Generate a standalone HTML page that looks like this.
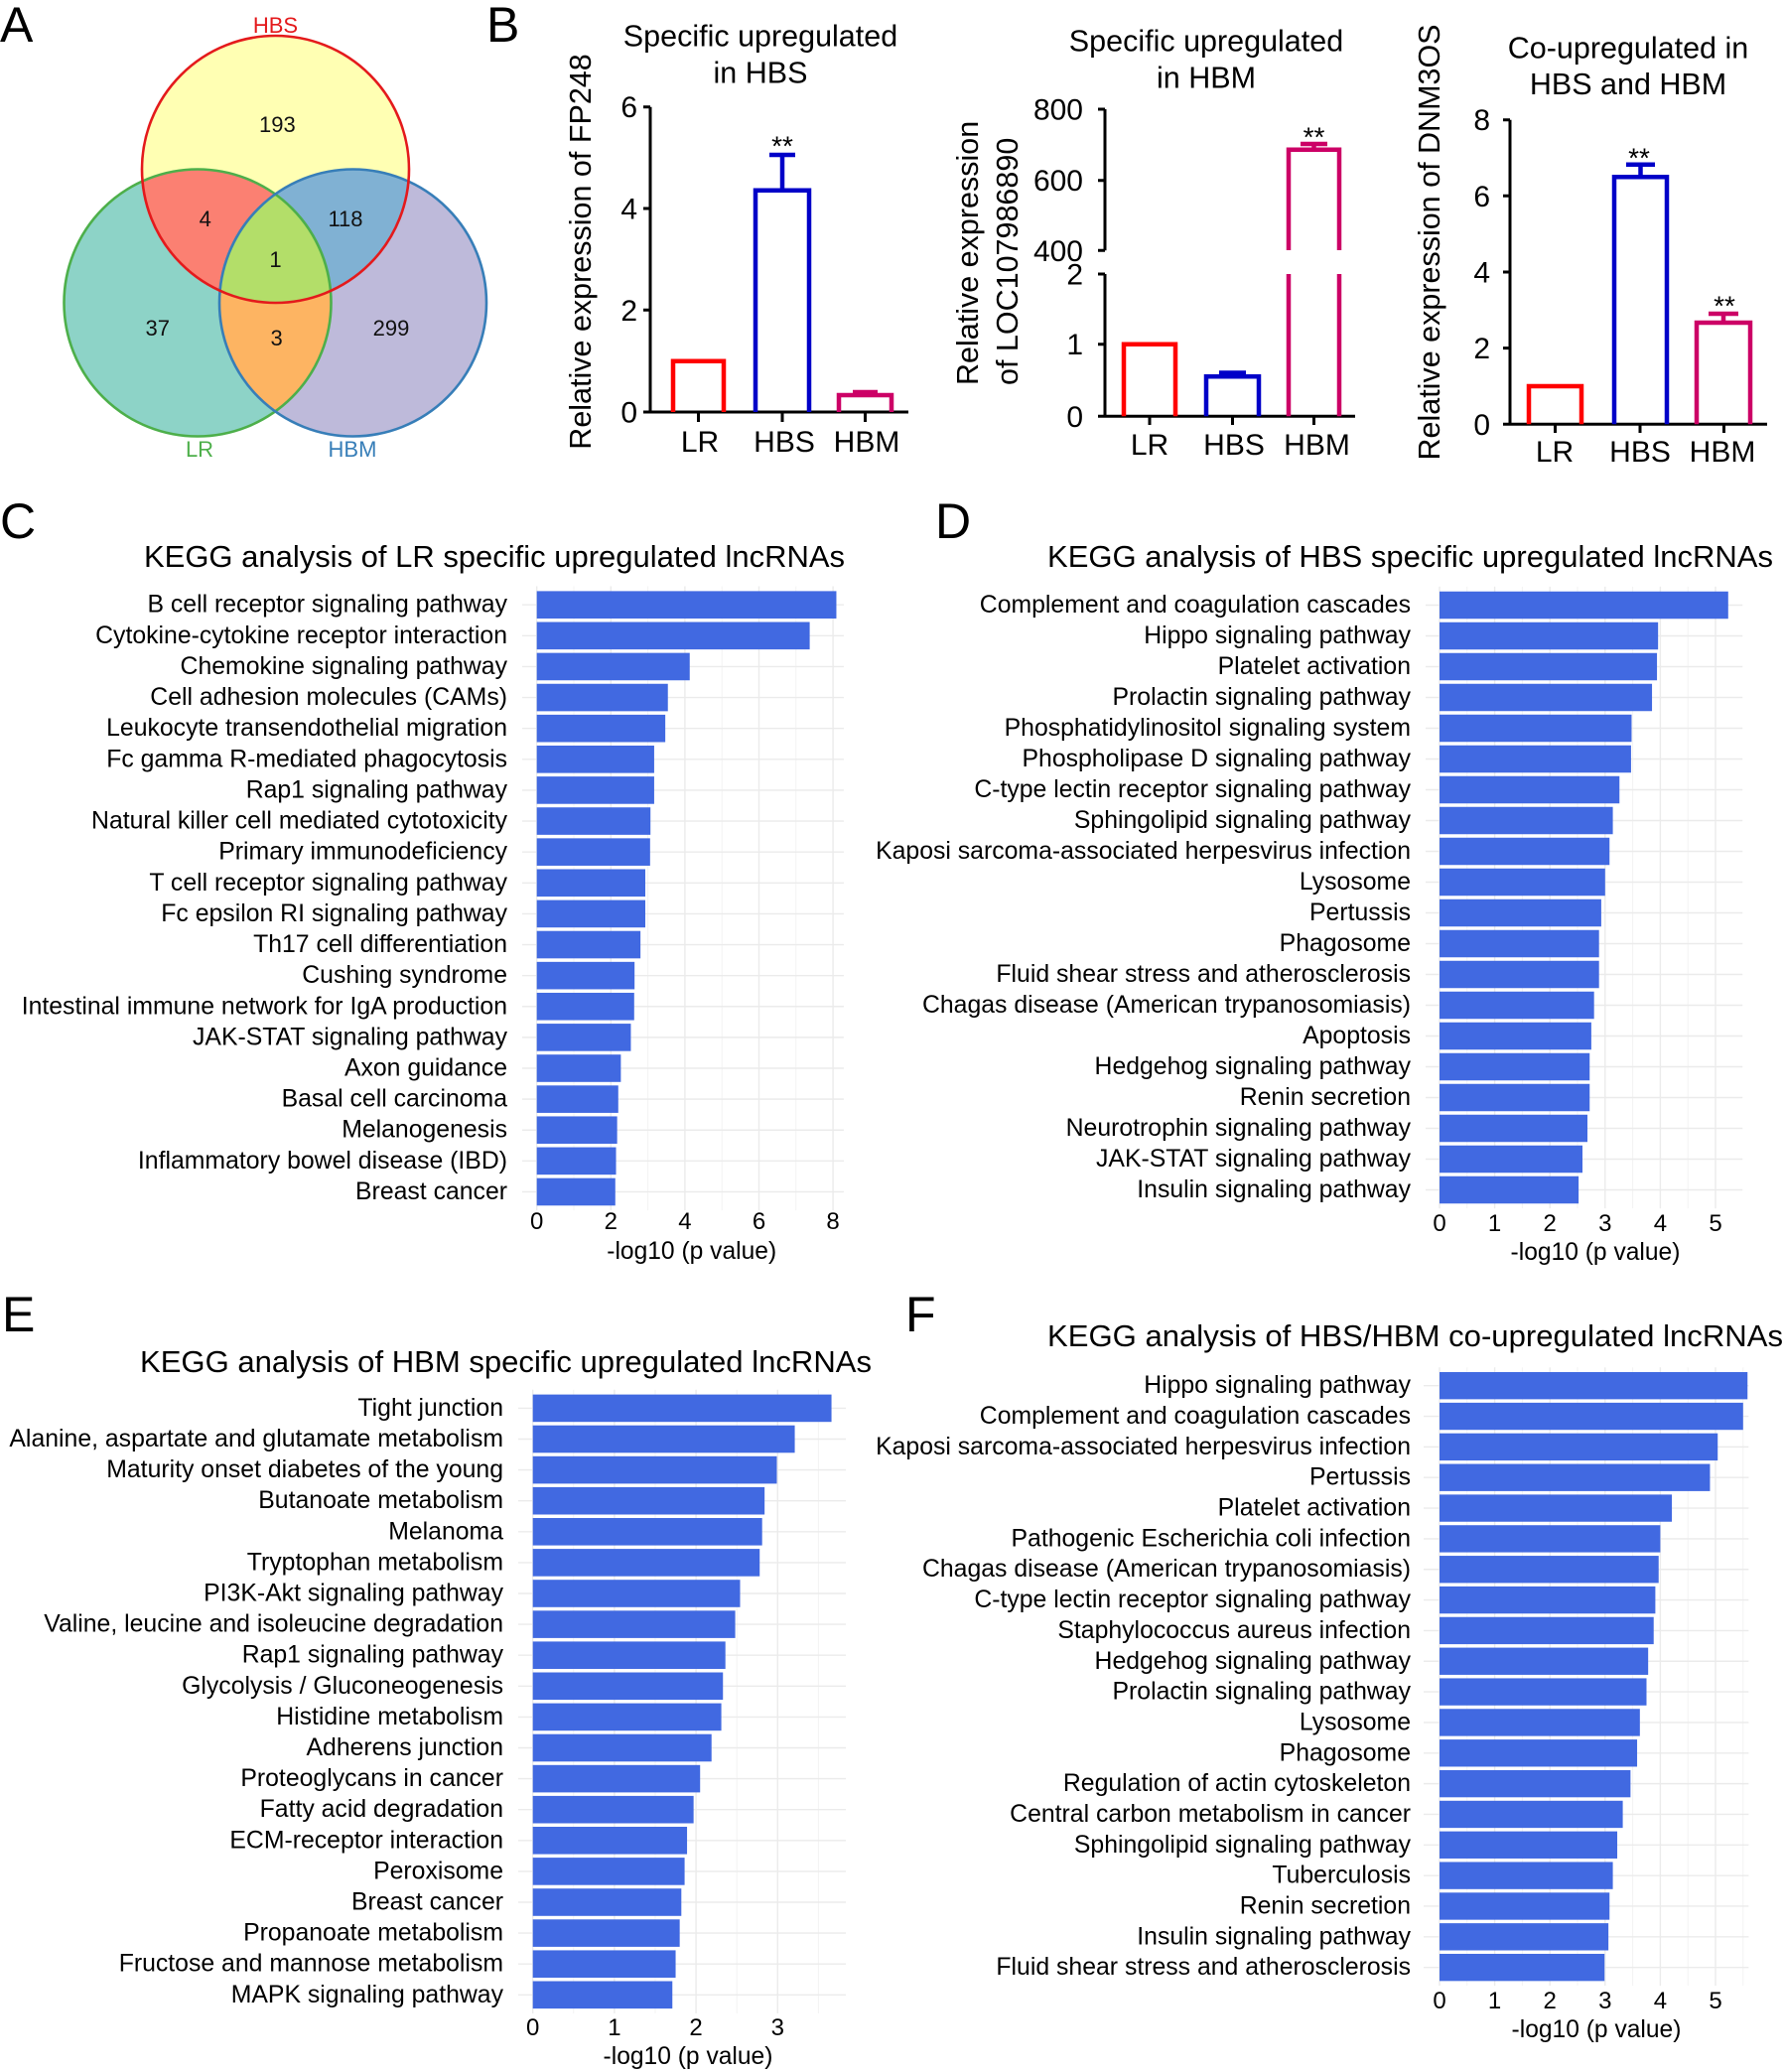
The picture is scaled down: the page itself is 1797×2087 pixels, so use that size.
<!DOCTYPE html>
<html><head><meta charset="utf-8">
<style>
html,body{margin:0;padding:0;background:#fff;}
svg{display:block;font-family:"Liberation Sans",Arial,sans-serif;}
.ns line,.ns rect{vector-effect:non-scaling-stroke;}
.gmaj{stroke:#EBEBEB;stroke-width:1.4;}
.gmin{stroke:#F3F3F3;stroke-width:1;}
.bars rect{fill:#4169E1;}
</style></head>
<body>
<svg width="1797" height="2087" viewBox="0 0 1797 2087" xmlns="http://www.w3.org/2000/svg">
<rect width="1797" height="2087" fill="#fff"/>
<defs>
<clipPath id="cH"><circle cx="277.5" cy="170.5" r="134.5"/></clipPath>
<clipPath id="cL"><circle cx="199" cy="305" r="134.5"/></clipPath>
<clipPath id="cM"><circle cx="355.5" cy="305" r="134.5"/></clipPath>
</defs>

<!-- Panel letters -->
<g font-size="50" fill="#000">
<text x="0" y="42">A</text>
<text x="490" y="42">B</text>
<text x="0" y="542">C</text>
<text x="942" y="542">D</text>
<text x="2" y="1341">E</text>
<text x="912" y="1341">F</text>
</g>

<!-- Venn -->
<circle cx="277.5" cy="170.5" r="134.5" fill="#FFFFB3"/>
<circle cx="199" cy="305" r="134.5" fill="#8DD3C7"/>
<circle cx="355.5" cy="305" r="134.5" fill="#BEBADA"/>
<circle cx="199" cy="305" r="134.5" fill="#FB8072" clip-path="url(#cH)"/>
<circle cx="355.5" cy="305" r="134.5" fill="#80B1D3" clip-path="url(#cH)"/>
<circle cx="355.5" cy="305" r="134.5" fill="#FDB462" clip-path="url(#cL)"/>
<g clip-path="url(#cH)"><circle cx="355.5" cy="305" r="134.5" fill="#B3DE69" clip-path="url(#cL)"/></g>
<circle cx="199" cy="305" r="134.5" fill="none" stroke="#4DAF4A" stroke-width="2.6"/>
<circle cx="355.5" cy="305" r="134.5" fill="none" stroke="#377EB8" stroke-width="2.6"/>
<circle cx="277.5" cy="170.5" r="134.5" fill="none" stroke="#E41A1C" stroke-width="2.6"/>
<g font-size="22" fill="#111" text-anchor="middle">
<text x="279.4" y="133">193</text>
<text x="206.7" y="228">4</text>
<text x="348" y="228">118</text>
<text x="277.5" y="269">1</text>
<text x="158.8" y="338">37</text>
<text x="278.6" y="348">3</text>
<text x="394" y="338">299</text>
<text x="277.5" y="33" fill="#E41A1C">HBS</text>
<text x="201" y="460" fill="#4DAF4A">LR</text>
<text x="355" y="460" fill="#377EB8">HBM</text>
</g>

<!-- Panel B chart 1 -->
<g font-size="30.5" fill="#000">
<text x="766" y="46.7" text-anchor="middle">Specific upregulated</text>
<text x="766" y="83.3" text-anchor="middle">in HBS</text>
<text transform="translate(595 253.5) rotate(-90)" text-anchor="middle">Relative expression of FP248</text>
<g text-anchor="end" font-size="30">
<text x="642" y="118.2">6</text>
<text x="642" y="220.5">4</text>
<text x="642" y="322.8">2</text>
<text x="642" y="425.5">0</text>
</g>
<g text-anchor="middle" font-size="30">
<text x="705" y="455">LR</text>
<text x="790" y="455">HBS</text>
<text x="873" y="455">HBM</text>
</g>
<text x="788" y="156.5" font-size="28" text-anchor="middle">**</text>
</g>
<g fill="none" stroke="#000" stroke-width="3">
<path d="M655 107.7V415M648 415H915M648 107.7H655M648 210H655M648 312.3H655M703.5 415V425M788 415V425M871.5 415V425"/>
</g>
<g fill="none" stroke-width="4.5" stroke-linejoin="miter">
<path d="M678 415V363.8H729V415" stroke="#FF0000"/>
<path d="M761 415V191.7H815V415M788 191.7V156M775 156H801" stroke="#0000C8"/>
<path d="M845 415V398H898V415M871.5 398V395M859 395H884" stroke="#CC0066"/>
</g>

<!-- Panel B chart 2 -->
<g font-size="30.5" fill="#000">
<text x="1215" y="51.7" text-anchor="middle">Specific upregulated</text>
<text x="1215" y="88.3" text-anchor="middle">in HBM</text>
<text transform="translate(985 388) rotate(-90)">Relative expression</text>
<text transform="translate(1025 388) rotate(-90)">of LOC107986890</text>
<g text-anchor="end" font-size="30">
<text x="1091" y="120.5">800</text>
<text x="1091" y="192.2">600</text>
<text x="1091" y="262.8">400</text>
<text x="1091" y="286.5">2</text>
<text x="1091" y="357.2">1</text>
<text x="1091" y="429.8">0</text>
</g>
<g text-anchor="middle" font-size="30">
<text x="1158" y="458">LR</text>
<text x="1243" y="458">HBS</text>
<text x="1326.5" y="458">HBM</text>
</g>
<text x="1323.5" y="147.5" font-size="28" text-anchor="middle">**</text>
</g>
<g fill="none" stroke="#000" stroke-width="3">
<path d="M1113 110V252.3M1106 110H1113M1106 181.7H1113M1106 252.3H1113M1113 276V419.3M1106 276H1113M1106 346.7H1113M1106 419.3H1365M1158 419.3V428M1241.5 419.3V428M1323.5 419.3V428"/>
</g>
<g fill="none" stroke-width="4.5">
<path d="M1132 419.3V346.7H1184V419.3" stroke="#FF0000"/>
<path d="M1215 419.3V379.3H1268V419.3M1241.5 379.3V375.5M1228 375.5H1255" stroke="#0000C8"/>
<path d="M1298 419.3V276M1349 419.3V276M1298 252V150.7H1349V252M1323.5 150.7V145M1310 145H1337" stroke="#CC0066"/>
</g>

<!-- Panel B chart 3 -->
<g font-size="30.5" fill="#000">
<text x="1640" y="58.3" text-anchor="middle">Co-upregulated in</text>
<text x="1640" y="95" text-anchor="middle">HBS and HBM</text>
<text transform="translate(1450 244) rotate(-90)" text-anchor="middle">Relative expression of DNM3OS</text>
<g text-anchor="end" font-size="30">
<text x="1501" y="131.2">8</text>
<text x="1501" y="207.8">6</text>
<text x="1501" y="284.5">4</text>
<text x="1501" y="361.1">2</text>
<text x="1501" y="437.8">0</text>
</g>
<g text-anchor="middle" font-size="30">
<text x="1566" y="465">LR</text>
<text x="1652" y="465">HBS</text>
<text x="1735" y="465">HBM</text>
</g>
<text x="1651" y="168.5" font-size="28" text-anchor="middle">**</text>
<text x="1737" y="317.5" font-size="28" text-anchor="middle">**</text>
</g>
<g fill="none" stroke="#000" stroke-width="3">
<path d="M1521 120.7V427.3M1514 120.7H1521M1514 197.3H1521M1514 274H1521M1514 350.6H1521M1514 427.3H1780M1566.5 427.3V436M1652 427.3V436M1736.5 427.3V436"/>
</g>
<g fill="none" stroke-width="4.5">
<path d="M1540 427.3V389H1593V427.3" stroke="#FF0000"/>
<path d="M1626 427.3V178.3H1679V427.3M1652.5 178.3V165.7M1638 165.7H1667" stroke="#0000C8"/>
<path d="M1709 427.3V325H1763V427.3M1736 325V316M1721 316H1751" stroke="#CC0066"/>
</g>

<!-- ============ Panel C ============ -->
<text x="145" y="571" font-size="31" textLength="706" lengthAdjust="spacingAndGlyphs">KEGG analysis of LR specific upregulated lncRNAs</text>
<g class="ns" transform="translate(540.7 609.2) scale(37.3 31.12)">
<g class="gmin">
<line x1="1" y1="-0.6" x2="1" y2="19.6"/><line x1="3" y1="-0.6" x2="3" y2="19.6"/><line x1="5" y1="-0.6" x2="5" y2="19.6"/><line x1="7" y1="-0.6" x2="7" y2="19.6"/>
</g>
<g class="gmaj">
<line x1="0" y1="-0.6" x2="0" y2="19.6"/><line x1="2" y1="-0.6" x2="2" y2="19.6"/><line x1="4" y1="-0.6" x2="4" y2="19.6"/><line x1="6" y1="-0.6" x2="6" y2="19.6"/><line x1="8" y1="-0.6" x2="8" y2="19.6"/>
<line x1="-0.394" y1="0" x2="8.29" y2="0"/><line x1="-0.394" y1="1" x2="8.29" y2="1"/><line x1="-0.394" y1="2" x2="8.29" y2="2"/><line x1="-0.394" y1="3" x2="8.29" y2="3"/><line x1="-0.394" y1="4" x2="8.29" y2="4"/><line x1="-0.394" y1="5" x2="8.29" y2="5"/><line x1="-0.394" y1="6" x2="8.29" y2="6"/><line x1="-0.394" y1="7" x2="8.29" y2="7"/><line x1="-0.394" y1="8" x2="8.29" y2="8"/><line x1="-0.394" y1="9" x2="8.29" y2="9"/><line x1="-0.394" y1="10" x2="8.29" y2="10"/><line x1="-0.394" y1="11" x2="8.29" y2="11"/><line x1="-0.394" y1="12" x2="8.29" y2="12"/><line x1="-0.394" y1="13" x2="8.29" y2="13"/><line x1="-0.394" y1="14" x2="8.29" y2="14"/><line x1="-0.394" y1="15" x2="8.29" y2="15"/><line x1="-0.394" y1="16" x2="8.29" y2="16"/><line x1="-0.394" y1="17" x2="8.29" y2="17"/><line x1="-0.394" y1="18" x2="8.29" y2="18"/><line x1="-0.394" y1="19" x2="8.29" y2="19"/>
</g>
<g class="bars">
<rect x="0" y="-0.4435" width="8.09" height="0.887"/>
<rect x="0" y="0.5565" width="7.37" height="0.887"/>
<rect x="0" y="1.5565" width="4.13" height="0.887"/>
<rect x="0" y="2.5565" width="3.54" height="0.887"/>
<rect x="0" y="3.5565" width="3.47" height="0.887"/>
<rect x="0" y="4.5565" width="3.17" height="0.887"/>
<rect x="0" y="5.5565" width="3.17" height="0.887"/>
<rect x="0" y="6.5565" width="3.07" height="0.887"/>
<rect x="0" y="7.5565" width="3.06" height="0.887"/>
<rect x="0" y="8.5565" width="2.93" height="0.887"/>
<rect x="0" y="9.5565" width="2.93" height="0.887"/>
<rect x="0" y="10.5565" width="2.80" height="0.887"/>
<rect x="0" y="11.5565" width="2.64" height="0.887"/>
<rect x="0" y="12.5565" width="2.63" height="0.887"/>
<rect x="0" y="13.5565" width="2.54" height="0.887"/>
<rect x="0" y="14.5565" width="2.27" height="0.887"/>
<rect x="0" y="15.5565" width="2.20" height="0.887"/>
<rect x="0" y="16.5565" width="2.17" height="0.887"/>
<rect x="0" y="17.5565" width="2.14" height="0.887"/>
<rect x="0" y="18.5565" width="2.12" height="0.887"/>
</g>
</g>
<text font-size="24.8" text-anchor="end" fill="#000"><tspan x="511" y="616.7">B cell receptor signaling pathway</tspan><tspan
 x="511" dy="31.12">Cytokine-cytokine receptor interaction</tspan><tspan
 x="511" dy="31.12">Chemokine signaling pathway</tspan><tspan
 x="511" dy="31.12">Cell adhesion molecules (CAMs)</tspan><tspan
 x="511" dy="31.12">Leukocyte transendothelial migration</tspan><tspan
 x="511" dy="31.12">Fc gamma R-mediated phagocytosis</tspan><tspan
 x="511" dy="31.12">Rap1 signaling pathway</tspan><tspan
 x="511" dy="31.12">Natural killer cell mediated cytotoxicity</tspan><tspan
 x="511" dy="31.12">Primary immunodeficiency</tspan><tspan
 x="511" dy="31.12">T cell receptor signaling pathway</tspan><tspan
 x="511" dy="31.12">Fc epsilon RI signaling pathway</tspan><tspan
 x="511" dy="31.12">Th17 cell differentiation</tspan><tspan
 x="511" dy="31.12">Cushing syndrome</tspan><tspan
 x="511" dy="31.12">Intestinal immune network for IgA production</tspan><tspan
 x="511" dy="31.12">JAK-STAT signaling pathway</tspan><tspan
 x="511" dy="31.12">Axon guidance</tspan><tspan
 x="511" dy="31.12">Basal cell carcinoma</tspan><tspan
 x="511" dy="31.12">Melanogenesis</tspan><tspan
 x="511" dy="31.12">Inflammatory bowel disease (IBD)</tspan><tspan
 x="511" dy="31.12">Breast cancer</tspan></text>
<g font-size="24" text-anchor="middle" fill="#000">
<text x="540.7" y="1238">0</text><text x="615.3" y="1238">2</text><text x="689.9" y="1238">4</text><text x="764.5" y="1238">6</text><text x="839.1" y="1238">8</text>
<text x="696.7" y="1268" font-size="24.6">-log10 (p value)</text>
</g>

<!-- ============ Panel D ============ -->
<text x="1055" y="571" font-size="31" textLength="731" lengthAdjust="spacingAndGlyphs">KEGG analysis of HBS specific upregulated lncRNAs</text>
<g class="ns" transform="translate(1450 609.5) scale(55.6 31.0)">
<g class="gmin">
<line x1="0.5" y1="-0.6" x2="0.5" y2="19.6"/><line x1="1.5" y1="-0.6" x2="1.5" y2="19.6"/><line x1="2.5" y1="-0.6" x2="2.5" y2="19.6"/><line x1="3.5" y1="-0.6" x2="3.5" y2="19.6"/><line x1="4.5" y1="-0.6" x2="4.5" y2="19.6"/>
</g>
<g class="gmaj">
<line x1="0" y1="-0.6" x2="0" y2="19.6"/><line x1="1" y1="-0.6" x2="1" y2="19.6"/><line x1="2" y1="-0.6" x2="2" y2="19.6"/><line x1="3" y1="-0.6" x2="3" y2="19.6"/><line x1="4" y1="-0.6" x2="4" y2="19.6"/><line x1="5" y1="-0.6" x2="5" y2="19.6"/>
<line x1="-0.252" y1="0" x2="5.49" y2="0"/><line x1="-0.252" y1="1" x2="5.49" y2="1"/><line x1="-0.252" y1="2" x2="5.49" y2="2"/><line x1="-0.252" y1="3" x2="5.49" y2="3"/><line x1="-0.252" y1="4" x2="5.49" y2="4"/><line x1="-0.252" y1="5" x2="5.49" y2="5"/><line x1="-0.252" y1="6" x2="5.49" y2="6"/><line x1="-0.252" y1="7" x2="5.49" y2="7"/><line x1="-0.252" y1="8" x2="5.49" y2="8"/><line x1="-0.252" y1="9" x2="5.49" y2="9"/><line x1="-0.252" y1="10" x2="5.49" y2="10"/><line x1="-0.252" y1="11" x2="5.49" y2="11"/><line x1="-0.252" y1="12" x2="5.49" y2="12"/><line x1="-0.252" y1="13" x2="5.49" y2="13"/><line x1="-0.252" y1="14" x2="5.49" y2="14"/><line x1="-0.252" y1="15" x2="5.49" y2="15"/><line x1="-0.252" y1="16" x2="5.49" y2="16"/><line x1="-0.252" y1="17" x2="5.49" y2="17"/><line x1="-0.252" y1="18" x2="5.49" y2="18"/><line x1="-0.252" y1="19" x2="5.49" y2="19"/>
</g>
<g class="bars">
<rect x="0" y="-0.4435" width="5.23" height="0.887"/>
<rect x="0" y="0.5565" width="3.96" height="0.887"/>
<rect x="0" y="1.5565" width="3.94" height="0.887"/>
<rect x="0" y="2.5565" width="3.85" height="0.887"/>
<rect x="0" y="3.5565" width="3.48" height="0.887"/>
<rect x="0" y="4.5565" width="3.47" height="0.887"/>
<rect x="0" y="5.5565" width="3.26" height="0.887"/>
<rect x="0" y="6.5565" width="3.14" height="0.887"/>
<rect x="0" y="7.5565" width="3.08" height="0.887"/>
<rect x="0" y="8.5565" width="3.00" height="0.887"/>
<rect x="0" y="9.5565" width="2.93" height="0.887"/>
<rect x="0" y="10.5565" width="2.89" height="0.887"/>
<rect x="0" y="11.5565" width="2.89" height="0.887"/>
<rect x="0" y="12.5565" width="2.80" height="0.887"/>
<rect x="0" y="13.5565" width="2.75" height="0.887"/>
<rect x="0" y="14.5565" width="2.72" height="0.887"/>
<rect x="0" y="15.5565" width="2.72" height="0.887"/>
<rect x="0" y="16.5565" width="2.68" height="0.887"/>
<rect x="0" y="17.5565" width="2.59" height="0.887"/>
<rect x="0" y="18.5565" width="2.52" height="0.887"/>
</g>
</g>
<text font-size="24.8" text-anchor="end" fill="#000"><tspan x="1421" y="617">Complement and coagulation cascades</tspan><tspan
 x="1421" dy="31">Hippo signaling pathway</tspan><tspan
 x="1421" dy="31">Platelet activation</tspan><tspan
 x="1421" dy="31">Prolactin signaling pathway</tspan><tspan
 x="1421" dy="31">Phosphatidylinositol signaling system</tspan><tspan
 x="1421" dy="31">Phospholipase D signaling pathway</tspan><tspan
 x="1421" dy="31">C-type lectin receptor signaling pathway</tspan><tspan
 x="1421" dy="31">Sphingolipid signaling pathway</tspan><tspan
 x="1421" dy="31">Kaposi sarcoma-associated herpesvirus infection</tspan><tspan
 x="1421" dy="31">Lysosome</tspan><tspan
 x="1421" dy="31">Pertussis</tspan><tspan
 x="1421" dy="31">Phagosome</tspan><tspan
 x="1421" dy="31">Fluid shear stress and atherosclerosis</tspan><tspan
 x="1421" dy="31">Chagas disease (American trypanosomiasis)</tspan><tspan
 x="1421" dy="31">Apoptosis</tspan><tspan
 x="1421" dy="31">Hedgehog signaling pathway</tspan><tspan
 x="1421" dy="31">Renin secretion</tspan><tspan
 x="1421" dy="31">Neurotrophin signaling pathway</tspan><tspan
 x="1421" dy="31">JAK-STAT signaling pathway</tspan><tspan
 x="1421" dy="31">Insulin signaling pathway</tspan></text>
<g font-size="24" text-anchor="middle" fill="#000">
<text x="1450" y="1240">0</text><text x="1505.6" y="1240">1</text><text x="1561.2" y="1240">2</text><text x="1616.8" y="1240">3</text><text x="1672.4" y="1240">4</text><text x="1728" y="1240">5</text>
<text x="1607" y="1269" font-size="24.6">-log10 (p value)</text>
</g>

<!-- ============ Panel E ============ -->
<text x="141" y="1382" font-size="31" textLength="737" lengthAdjust="spacingAndGlyphs">KEGG analysis of HBM specific upregulated lncRNAs</text>
<g class="ns" transform="translate(536.7 1418.4) scale(82.2 31.1)">
<g class="gmin">
<line x1="0.5" y1="-0.6" x2="0.5" y2="19.6"/><line x1="1.5" y1="-0.6" x2="1.5" y2="19.6"/><line x1="2.5" y1="-0.6" x2="2.5" y2="19.6"/><line x1="3.5" y1="-0.6" x2="3.5" y2="19.6"/>
</g>
<g class="gmaj">
<line x1="0" y1="-0.6" x2="0" y2="19.6"/><line x1="1" y1="-0.6" x2="1" y2="19.6"/><line x1="2" y1="-0.6" x2="2" y2="19.6"/><line x1="3" y1="-0.6" x2="3" y2="19.6"/>
<line x1="-0.179" y1="0" x2="3.836" y2="0"/><line x1="-0.179" y1="1" x2="3.836" y2="1"/><line x1="-0.179" y1="2" x2="3.836" y2="2"/><line x1="-0.179" y1="3" x2="3.836" y2="3"/><line x1="-0.179" y1="4" x2="3.836" y2="4"/><line x1="-0.179" y1="5" x2="3.836" y2="5"/><line x1="-0.179" y1="6" x2="3.836" y2="6"/><line x1="-0.179" y1="7" x2="3.836" y2="7"/><line x1="-0.179" y1="8" x2="3.836" y2="8"/><line x1="-0.179" y1="9" x2="3.836" y2="9"/><line x1="-0.179" y1="10" x2="3.836" y2="10"/><line x1="-0.179" y1="11" x2="3.836" y2="11"/><line x1="-0.179" y1="12" x2="3.836" y2="12"/><line x1="-0.179" y1="13" x2="3.836" y2="13"/><line x1="-0.179" y1="14" x2="3.836" y2="14"/><line x1="-0.179" y1="15" x2="3.836" y2="15"/><line x1="-0.179" y1="16" x2="3.836" y2="16"/><line x1="-0.179" y1="17" x2="3.836" y2="17"/><line x1="-0.179" y1="18" x2="3.836" y2="18"/><line x1="-0.179" y1="19" x2="3.836" y2="19"/>
</g>
<g class="bars">
<rect x="0" y="-0.4435" width="3.66" height="0.887"/>
<rect x="0" y="0.5565" width="3.21" height="0.887"/>
<rect x="0" y="1.5565" width="2.99" height="0.887"/>
<rect x="0" y="2.5565" width="2.84" height="0.887"/>
<rect x="0" y="3.5565" width="2.81" height="0.887"/>
<rect x="0" y="4.5565" width="2.78" height="0.887"/>
<rect x="0" y="5.5565" width="2.54" height="0.887"/>
<rect x="0" y="6.5565" width="2.48" height="0.887"/>
<rect x="0" y="7.5565" width="2.36" height="0.887"/>
<rect x="0" y="8.5565" width="2.33" height="0.887"/>
<rect x="0" y="9.5565" width="2.31" height="0.887"/>
<rect x="0" y="10.5565" width="2.19" height="0.887"/>
<rect x="0" y="11.5565" width="2.05" height="0.887"/>
<rect x="0" y="12.5565" width="1.97" height="0.887"/>
<rect x="0" y="13.5565" width="1.89" height="0.887"/>
<rect x="0" y="14.5565" width="1.86" height="0.887"/>
<rect x="0" y="15.5565" width="1.82" height="0.887"/>
<rect x="0" y="16.5565" width="1.80" height="0.887"/>
<rect x="0" y="17.5565" width="1.75" height="0.887"/>
<rect x="0" y="18.5565" width="1.71" height="0.887"/>
</g>
</g>
<text font-size="24.8" text-anchor="end" fill="#000"><tspan x="507" y="1425.9">Tight junction</tspan><tspan
 x="507" dy="31.1">Alanine, aspartate and glutamate metabolism</tspan><tspan
 x="507" dy="31.1">Maturity onset diabetes of the young</tspan><tspan
 x="507" dy="31.1">Butanoate metabolism</tspan><tspan
 x="507" dy="31.1">Melanoma</tspan><tspan
 x="507" dy="31.1">Tryptophan metabolism</tspan><tspan
 x="507" dy="31.1">PI3K-Akt signaling pathway</tspan><tspan
 x="507" dy="31.1">Valine, leucine and isoleucine degradation</tspan><tspan
 x="507" dy="31.1">Rap1 signaling pathway</tspan><tspan
 x="507" dy="31.1">Glycolysis / Gluconeogenesis</tspan><tspan
 x="507" dy="31.1">Histidine metabolism</tspan><tspan
 x="507" dy="31.1">Adherens junction</tspan><tspan
 x="507" dy="31.1">Proteoglycans in cancer</tspan><tspan
 x="507" dy="31.1">Fatty acid degradation</tspan><tspan
 x="507" dy="31.1">ECM-receptor interaction</tspan><tspan
 x="507" dy="31.1">Peroxisome</tspan><tspan
 x="507" dy="31.1">Breast cancer</tspan><tspan
 x="507" dy="31.1">Propanoate metabolism</tspan><tspan
 x="507" dy="31.1">Fructose and mannose metabolism</tspan><tspan
 x="507" dy="31.1">MAPK signaling pathway</tspan></text>
<g font-size="24" text-anchor="middle" fill="#000">
<text x="536.7" y="2050">0</text><text x="618.9" y="2050">1</text><text x="701.1" y="2050">2</text><text x="783.3" y="2050">3</text>
<text x="693" y="2079" font-size="24.6">-log10 (p value)</text>
</g>

<!-- ============ Panel F ============ -->
<text x="1055" y="1356" font-size="31" textLength="741" lengthAdjust="spacingAndGlyphs">KEGG analysis of HBS/HBM co-upregulated lncRNAs</text>
<g class="ns" transform="translate(1450 1395.7) scale(55.6 30.84)">
<g class="gmin">
<line x1="0.5" y1="-0.6" x2="0.5" y2="19.6"/><line x1="1.5" y1="-0.6" x2="1.5" y2="19.6"/><line x1="2.5" y1="-0.6" x2="2.5" y2="19.6"/><line x1="3.5" y1="-0.6" x2="3.5" y2="19.6"/><line x1="4.5" y1="-0.6" x2="4.5" y2="19.6"/><line x1="5.5" y1="-0.6" x2="5.5" y2="19.6"/>
</g>
<g class="gmaj">
<line x1="0" y1="-0.6" x2="0" y2="19.6"/><line x1="1" y1="-0.6" x2="1" y2="19.6"/><line x1="2" y1="-0.6" x2="2" y2="19.6"/><line x1="3" y1="-0.6" x2="3" y2="19.6"/><line x1="4" y1="-0.6" x2="4" y2="19.6"/><line x1="5" y1="-0.6" x2="5" y2="19.6"/>
<line x1="-0.288" y1="0" x2="5.6" y2="0"/><line x1="-0.288" y1="1" x2="5.6" y2="1"/><line x1="-0.288" y1="2" x2="5.6" y2="2"/><line x1="-0.288" y1="3" x2="5.6" y2="3"/><line x1="-0.288" y1="4" x2="5.6" y2="4"/><line x1="-0.288" y1="5" x2="5.6" y2="5"/><line x1="-0.288" y1="6" x2="5.6" y2="6"/><line x1="-0.288" y1="7" x2="5.6" y2="7"/><line x1="-0.288" y1="8" x2="5.6" y2="8"/><line x1="-0.288" y1="9" x2="5.6" y2="9"/><line x1="-0.288" y1="10" x2="5.6" y2="10"/><line x1="-0.288" y1="11" x2="5.6" y2="11"/><line x1="-0.288" y1="12" x2="5.6" y2="12"/><line x1="-0.288" y1="13" x2="5.6" y2="13"/><line x1="-0.288" y1="14" x2="5.6" y2="14"/><line x1="-0.288" y1="15" x2="5.6" y2="15"/><line x1="-0.288" y1="16" x2="5.6" y2="16"/><line x1="-0.288" y1="17" x2="5.6" y2="17"/><line x1="-0.288" y1="18" x2="5.6" y2="18"/><line x1="-0.288" y1="19" x2="5.6" y2="19"/>
</g>
<g class="bars">
<rect x="0" y="-0.4435" width="5.58" height="0.887"/>
<rect x="0" y="0.5565" width="5.50" height="0.887"/>
<rect x="0" y="1.5565" width="5.04" height="0.887"/>
<rect x="0" y="2.5565" width="4.90" height="0.887"/>
<rect x="0" y="3.5565" width="4.21" height="0.887"/>
<rect x="0" y="4.5565" width="4.00" height="0.887"/>
<rect x="0" y="5.5565" width="3.97" height="0.887"/>
<rect x="0" y="6.5565" width="3.91" height="0.887"/>
<rect x="0" y="7.5565" width="3.88" height="0.887"/>
<rect x="0" y="8.5565" width="3.78" height="0.887"/>
<rect x="0" y="9.5565" width="3.75" height="0.887"/>
<rect x="0" y="10.5565" width="3.63" height="0.887"/>
<rect x="0" y="11.5565" width="3.58" height="0.887"/>
<rect x="0" y="12.5565" width="3.46" height="0.887"/>
<rect x="0" y="13.5565" width="3.32" height="0.887"/>
<rect x="0" y="14.5565" width="3.22" height="0.887"/>
<rect x="0" y="15.5565" width="3.14" height="0.887"/>
<rect x="0" y="16.5565" width="3.08" height="0.887"/>
<rect x="0" y="17.5565" width="3.06" height="0.887"/>
<rect x="0" y="18.5565" width="2.99" height="0.887"/>
</g>
</g>
<text font-size="24.8" text-anchor="end" fill="#000"><tspan x="1421" y="1403.2">Hippo signaling pathway</tspan><tspan
 x="1421" dy="30.84">Complement and coagulation cascades</tspan><tspan
 x="1421" dy="30.84">Kaposi sarcoma-associated herpesvirus infection</tspan><tspan
 x="1421" dy="30.84">Pertussis</tspan><tspan
 x="1421" dy="30.84">Platelet activation</tspan><tspan
 x="1421" dy="30.84">Pathogenic Escherichia coli infection</tspan><tspan
 x="1421" dy="30.84">Chagas disease (American trypanosomiasis)</tspan><tspan
 x="1421" dy="30.84">C-type lectin receptor signaling pathway</tspan><tspan
 x="1421" dy="30.84">Staphylococcus aureus infection</tspan><tspan
 x="1421" dy="30.84">Hedgehog signaling pathway</tspan><tspan
 x="1421" dy="30.84">Prolactin signaling pathway</tspan><tspan
 x="1421" dy="30.84">Lysosome</tspan><tspan
 x="1421" dy="30.84">Phagosome</tspan><tspan
 x="1421" dy="30.84">Regulation of actin cytoskeleton</tspan><tspan
 x="1421" dy="30.84">Central carbon metabolism in cancer</tspan><tspan
 x="1421" dy="30.84">Sphingolipid signaling pathway</tspan><tspan
 x="1421" dy="30.84">Tuberculosis</tspan><tspan
 x="1421" dy="30.84">Renin secretion</tspan><tspan
 x="1421" dy="30.84">Insulin signaling pathway</tspan><tspan
 x="1421" dy="30.84">Fluid shear stress and atherosclerosis</tspan></text>
<g font-size="24" text-anchor="middle" fill="#000">
<text x="1450" y="2023">0</text><text x="1505.6" y="2023">1</text><text x="1561.2" y="2023">2</text><text x="1616.8" y="2023">3</text><text x="1672.4" y="2023">4</text><text x="1728" y="2023">5</text>
<text x="1608" y="2052" font-size="24.6">-log10 (p value)</text>
</g>
</svg>
</body></html>
